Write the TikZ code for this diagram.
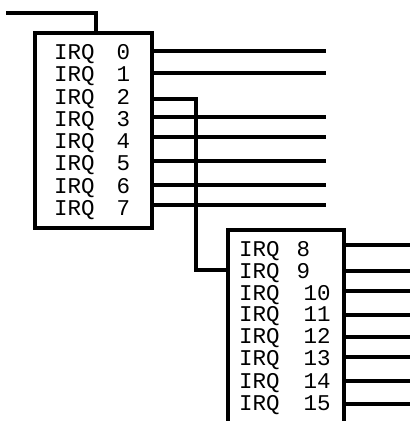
\documentclass[tikz,border=0pt]{standalone}
\usepackage{fontspec}
\newfontfamily\irqfont{Liberation Mono}
\begin{document}
\begin{tikzpicture}[x=1pt,y=-1pt,
  chip/.style={draw=black,line width=3.5pt,fill=white,inner sep=0pt},
  wire/.style={draw=black,line width=3.2pt},
  lbl/.style={anchor=base west,inner sep=0pt,font=\irqfont\fontsize{22.5}{22.5}\selectfont}]
\useasboundingbox (0,0) rectangle (410,421);
\clip (0,0) rectangle (410,421);
% chips
\node[chip,minimum width=117pt,minimum height=195pt] (b1) at (93.5,130.5) {};
\node[chip,minimum width=116pt,minimum height=210pt] (b2) at (286,335) {};
% labels chip 1
\foreach \n/\y in {0/51,1/73,2/96,3/118,4/140,5/162,6/185,7/207}
  \node[lbl] (irq\n) at (54,\y+8) {IRQ\hspace*{22pt}\n};
% labels chip 2
\foreach \n/\y in {8/248,9/270}
  \node[lbl] (irq\n) at (239,\y+8) {IRQ\hspace*{17pt}\n};
\foreach \n/\y in {10/292,11/313,12/335,13/357,14/380,15/402}
  \node[lbl] (irq\n) at (239,\y+8) {IRQ\hspace*{24pt}\n};
% input
\coordinate (in) at (6,13);
\coordinate (inb) at (96,33);
\draw[wire] (in) -| (inb);
% outputs chip 1
\foreach \k/\y in {0/51,1/73,3/117,4/137,5/161,6/185,7/205} {
  \coordinate (o\k) at (326,\y);
  \draw[wire] (b1.east |- o\k) -- (o\k);
}
% cascade IRQ2 -> chip 2
\coordinate (c2) at (196,99);
\coordinate (c9) at (196,270);
\draw[wire] (b1.east |- c2) -- (c2) -- (c9) -- (b2.west |- c9);
% outputs chip 2
\foreach \k/\y in {8/245,9/271,10/291,11/315,12/337,13/357,14/381,15/404} {
  \coordinate (o\k) at (412,\y);
  \draw[wire] (b2.east |- o\k) -- (o\k);
}
\end{tikzpicture}
\end{document}
